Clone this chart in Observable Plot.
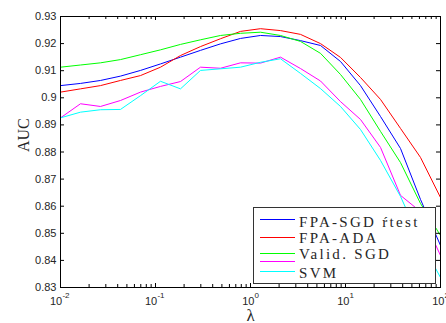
<!DOCTYPE html>
<html><head><meta charset="utf-8">
<script src="https://cdn.jsdelivr.net/npm/d3@7"></script>
<script src="https://cdn.jsdelivr.net/npm/@observablehq/plot@0.6"></script>
<style>body{margin:0;background:#fff}#chart{position:relative;width:446px;height:323px}</style>
</head><body><div id="chart"></div>
<script>
// lambda grid (x values)
const lambda = [0.01, 0.01624, 0.02637, 0.04281, 0.06952, 0.1129, 0.1833, 0.2976, 0.4833, 0.7848,
                1.274, 2.069, 3.360, 5.456, 8.859, 14.38, 23.36, 37.93, 61.58, 100];
// series values (AUC)
const fpaSgdRtest = [0.9045, 0.9053, 0.9064, 0.9080, 0.9101, 0.9125, 0.9150, 0.9175, 0.9199, 0.9219,
                     0.9230, 0.9226, 0.9211, 0.9193, 0.9134, 0.9045, 0.8931, 0.8813, 0.8625, 0.8455];
const fpaAda      = [0.9021, 0.9033, 0.9045, 0.9064, 0.9082, 0.9113, 0.9156, 0.9189, 0.9218, 0.9245,
                     0.9255, 0.9248, 0.9234, 0.9200, 0.9149, 0.9075, 0.8994, 0.8887, 0.8780, 0.8632];
const validSgd    = [0.9113, 0.9121, 0.9129, 0.9141, 0.9159, 0.9177, 0.9197, 0.9214, 0.9230, 0.9238,
                     0.9242, 0.9230, 0.9208, 0.9164, 0.9086, 0.8994, 0.8876, 0.8761, 0.8610, 0.8492];
const unlabeled   = [0.8926, 0.8978, 0.8968, 0.8990, 0.9021, 0.9042, 0.9060, 0.9113, 0.9109, 0.9129,
                     0.9128, 0.9150, 0.9108, 0.9062, 0.8986, 0.8920, 0.8817, 0.8640, 0.8580, 0.8418];
const svm         = [0.8926, 0.8947, 0.8956, 0.8957, 0.9008, 0.9061, 0.9033, 0.9101, 0.9107, 0.9113,
                     0.9131, 0.9144, 0.9090, 0.9034, 0.8968, 0.8883, 0.8769, 0.8636, 0.8473, 0.8337];
const seriesList = [fpaSgdRtest, fpaAda, validSgd, unlabeled, svm];
const seriesColors = ["#0000ff", "#ff0000", "#00ff00", "#ff00ff", "#00ffff"];
const legendLabels = ["FPA-SGD ŕtest", "FPA-ADA", "Valid. SGD", "SVM"];
// ticks
const yTicks = [0.83, 0.84, 0.85, 0.86, 0.87, 0.88, 0.89, 0.9, 0.91, 0.92, 0.93];
const xMajor = [0.01, 0.1, 1, 10, 100];
const xExp = ["-2", "-1", "0", "1", "2"];
const xMinorMult = [2, 3, 4, 5, 6, 7, 8, 9];
const xMinor = xMajor.slice(0, -1).flatMap(d => xMinorMult.map(m => d * m));

const W = 446, H = 323, mL = 60, mR = 6, mT = 16, mB = 36;
const pW = W - mL - mR, pH = H - mT - mB;
const ink = "#262626";
const sans = "'Liberation Sans', Arial, sans-serif";
const serif = "'Liberation Serif', 'Times New Roman', serif";

const lineMarks = seriesList.map((s, i) =>
  Plot.line(lambda.map((x, j) => ({x, y: s[j]})), {x: "x", y: "y", stroke: seriesColors[i], strokeWidth: 1}));

// x tick labels: "10" plus superscript exponent, centred as a whole on the tick
const xLabelMarks = xMajor.flatMap((d, i) => {
  const w = 12.2 + xExp[i].length * 4.4;
  return [
    Plot.text([d], {x: d => d, y: 0.83, text: () => "10", textAnchor: "start", dx: -w / 2, dy: 14, fontSize: 11, fill: ink}),
    Plot.text([d], {x: d => d, y: 0.83, text: () => xExp[i], textAnchor: "start", dx: -w / 2 + 12.4, dy: 8, fontSize: 8, fill: ink})
  ];
});

const svg = Plot.plot({
  width: W, height: H, marginLeft: mL, marginRight: mR, marginTop: mT, marginBottom: mB,
  x: {type: "log", domain: [0.01, 100], axis: null},
  y: {domain: [0.83, 0.93], axis: null},
  style: {fontFamily: sans, background: "white", overflow: "visible"},
  marks: [
    ...lineMarks,
    Plot.frame({stroke: "#000"}),
    Plot.tickY(yTicks, {y: d => d, insetRight: pW - 4, stroke: "#000"}),
    Plot.tickY(yTicks, {y: d => d, insetLeft: pW - 4, stroke: "#000"}),
    Plot.tickX(xMajor, {x: d => d, insetTop: pH - 4, stroke: "#000"}),
    Plot.tickX(xMajor, {x: d => d, insetBottom: pH - 4, stroke: "#000"}),
    Plot.tickX(xMinor, {x: d => d, insetTop: pH - 3, stroke: "#000"}),
    Plot.tickX(xMinor, {x: d => d, insetBottom: pH - 3, stroke: "#000"}),
    Plot.text(yTicks, {x: 0.01, y: d => d, text: d => String(d), textAnchor: "end", dx: -4, fontSize: 11, fill: ink}),
    ...xLabelMarks,
    Plot.text(["AUC"], {frameAnchor: "left", dx: -37, rotate: -90, fontSize: 16, fontFamily: serif, fill: ink}),
    Plot.text(["λ"], {frameAnchor: "bottom", dy: 33, fontSize: 17, fontFamily: serif, fill: ink})
  ]
});
const chart = document.getElementById("chart");
chart.appendChild(svg);

// legend box (inside the axes, lower right), drawn as an overlay svg
const lg = d3.create("svg").attr("width", W).attr("height", H)
  .style("position", "absolute").style("left", "0px").style("top", "0px");
lg.append("rect").attr("x", 253.5).attr("y", 207.5).attr("width", 182).attr("height", 76)
  .attr("fill", "#fff").attr("stroke", "#333").attr("stroke-width", 1);
const lineYs = [219.5, 237.5, 253.5, 261.5, 271.5];
seriesColors.forEach((c, i) => {
  lg.append("line").attr("x1", 260).attr("x2", 295).attr("y1", lineYs[i]).attr("y2", lineYs[i])
    .attr("stroke", c).attr("stroke-width", 1);
});
const textYs = [227, 243, 259, 278];
legendLabels.forEach((t, i) => {
  lg.append("text").attr("x", 299).attr("y", textYs[i]).attr("text-anchor", "start").text(t)
    .attr("font-family", serif).attr("font-size", 15).attr("letter-spacing", "2.3px").attr("fill", ink);
});
chart.appendChild(lg.node());
</script>
</body></html>
